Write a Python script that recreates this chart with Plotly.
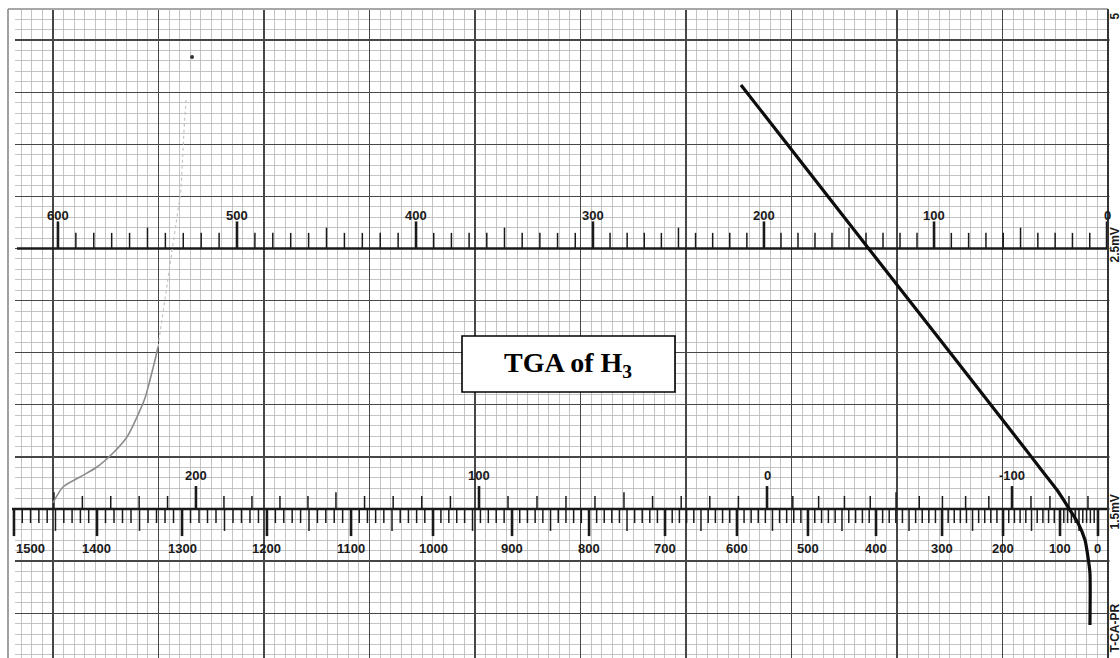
import numpy as np
import plotly.graph_objects as go

# ---------------------------------------------------------------------------
# DATA  (chart-paper coordinates: x = minor vertical divisions, y = minor
# horizontal divisions; x = 0 on the first heavy vertical line, y = 0 on the
# lower scale line)
# ---------------------------------------------------------------------------
# TGA weight trace (black pen)
tga_x = [65.21, 78.01, 91.94, 93.55, 95.17, 96.40, 97.16, 97.82, 98.10, 98.29, 98.29]
tga_y = [40.69, 24.09, 6.05, 3.93, 1.82, -0.10, -1.34, -2.98, -4.61, -6.14, -11.13]

# temperature pen trace (grey) and its faint continuation
temp_x = [0.0, 0.95, 2.56, 4.17, 5.69, 7.01, 7.96, 8.72, 9.19, 9.67, 9.95]
temp_y = [0.58, 2.11, 3.07, 4.03, 5.37, 6.91, 8.83, 10.65, 12.38, 14.30, 15.55]
faint_x = [9.95, 11.09, 11.85, 12.13, 12.42, 12.61]
faint_y = [15.55, 23.42, 28.21, 30.61, 36.37, 39.25]
dot_x = [13.18]
dot_y = [43.38]

# printed scales: values and where they sit on the paper (x divisions)
top_vals = [600, 500, 400, 300, 200, 100, 0]
top_pos = [0.47, 17.44, 34.41, 51.18, 67.39, 83.51, 99.91]
top_labels = [600, 500, 400, 300, 200, 100, 0]

bu_vals = [250, 200, 150, 100, 50, 0, -50, -100, -140]
bu_pos = [0.09, 13.55, 26.82, 40.38, 54.12, 67.68, 79.91, 90.90, 98.10]
bu_labels = [200, 100, 0, -100]

bl_vals = [1500, 1400, 1300, 1200, 1100, 1000, 900, 800, 700, 600, 500, 400, 300, 200, 100, 0]
bl_pos = [-3.70, 4.17, 12.23, 20.28, 28.25, 36.02, 43.51, 50.81, 58.01, 64.83,
          71.56, 78.01, 84.27, 90.05, 95.45, 99.05]
bl_labels = bl_vals

TOP_ROW = 25      # y of the upper (2.5 mV) scale line
BOT_ROW = 0       # y of the lower (1.5 mV) scale line

# ---------------------------------------------------------------------------
PX_X0, PX_SX = 53.0, 10.55     # paper geometry (pixels per division)
PX_Y0, PX_SY = 509.0, 10.42
W, H = 1120, 658
XR = [(0 - PX_X0) / PX_SX, (W - PX_X0) / PX_SX]
YR = [(PX_Y0 - H) / PX_SY, (PX_Y0 - 0) / PX_SY]

def u(px):
    return (px - PX_X0) / PX_SX

def v(py):
    return (PX_Y0 - py) / PX_SY

LABEL_FONT = "Liberation Sans, Arial, sans-serif"
INK = "#1a1a1a"

fig = go.Figure()

def scale(vals, pos, lo, hi, row, direction, lens):
    order = np.argsort(vals)
    vs = np.array(vals, dtype=float)[order]
    ps = np.array(pos, dtype=float)[order]
    mx, my, nx, ny = [], [], [], []
    for t in range(lo, hi + 1, 10):
        x = float(np.interp(t, vs, ps))
        if t % 100 == 0:
            ln = lens[0]
            mx += [x, x, None]; my += [row, row + direction * ln, None]
        else:
            ln = lens[1] if t % 50 == 0 else lens[2]
            nx += [x, x, None]; ny += [row, row + direction * ln, None]
    fig.add_trace(go.Scatter(x=nx, y=ny, mode="lines", line=dict(color=INK, width=1.5),
                             hoverinfo="skip", showlegend=False))
    fig.add_trace(go.Scatter(x=mx, y=my, mode="lines", line=dict(color=INK, width=2.6),
                             hoverinfo="skip", showlegend=False))

def pos_of(val, vals, pos):
    order = np.argsort(vals)
    return float(np.interp(val, np.array(vals, float)[order], np.array(pos, float)[order]))

# scale base lines
fig.add_trace(go.Scatter(x=[u(17), 100], y=[TOP_ROW, TOP_ROW], mode="lines",
                         line=dict(color=INK, width=2.4), hoverinfo="skip", showlegend=False))
fig.add_trace(go.Scatter(x=[u(12), 100], y=[BOT_ROW, BOT_ROW], mode="lines",
                         line=dict(color=INK, width=2.4), hoverinfo="skip", showlegend=False))

# top scale: ticks point up
scale(top_vals, top_pos, 0, 600, TOP_ROW, +1, (2.6, 2.0, 1.5))
# lower row, upper scale: ticks point up
scale(bu_vals, bu_pos, -140, 250, BOT_ROW, +1, (2.2, 1.6, 1.25))
# lower row, lower scale: ticks point down
scale(bl_vals, bl_pos, 0, 1500, BOT_ROW, -1, (2.6, 2.1, 1.35))

# pen traces
fig.add_trace(go.Scatter(x=temp_x, y=temp_y, mode="lines",
                         line=dict(color="#8c8c8c", width=1.6, shape="spline", smoothing=0.8),
                         hoverinfo="skip", showlegend=False))
fig.add_trace(go.Scatter(x=faint_x, y=faint_y, mode="lines",
                         line=dict(color="#c4c4c4", width=1.2, dash="dot"),
                         hoverinfo="skip", showlegend=False))
fig.add_trace(go.Scatter(x=dot_x, y=dot_y, mode="markers", marker=dict(color="#333", size=4),
                         hoverinfo="skip", showlegend=False))
fig.add_trace(go.Scatter(x=tga_x, y=tga_y, mode="lines",
                         line=dict(color="#0d0d0d", width=3.2, shape="spline", smoothing=0.6),
                         hoverinfo="skip", showlegend=False))

lab_font = dict(family=LABEL_FONT, size=13, color=INK, weight="bold")
ann = []
for lab in top_labels:
    ann.append(dict(x=pos_of(lab, top_vals, top_pos), y=TOP_ROW + 3.2, text=str(lab),
                    showarrow=False, font=lab_font, xanchor="center", yanchor="middle"))
for lab in bu_labels:
    ann.append(dict(x=pos_of(lab, bu_vals, bu_pos), y=BOT_ROW + 3.2, text=str(lab),
                    showarrow=False, font=lab_font, xanchor="center", yanchor="middle"))
for lab in bl_labels:
    xa = "left" if lab == bl_labels[0] else "center"
    ann.append(dict(x=pos_of(lab, bl_vals, bl_pos), y=BOT_ROW - 3.75, text=str(lab),
                    showarrow=False, font=lab_font, xanchor=xa, yanchor="middle"))

side_font = dict(family=LABEL_FONT, size=12, color=INK, weight="bold")
for txt, py in [("5", 16), ("2.5mV", 245), ("1.5mV", 512), ("T-CA-PR", 628)]:
    ann.append(dict(x=u(1114.5), y=v(py), text=txt, textangle=-90, showarrow=False,
                    font=side_font, xanchor="center", yanchor="middle"))

ann.append(dict(x=u(568), y=v(364), text="<b>TGA of H<sub>3</sub></b>", showarrow=False,
                font=dict(family="Liberation Serif, Times New Roman, serif", size=28, color="black"),
                xanchor="center", yanchor="middle"))

shapes = [
    # blank margins of the scanned sheet (cover grid outside the paper)
    dict(type="rect", layer="between", x0=XR[0] - 1, x1=u(15), y0=YR[0] - 1, y1=YR[1] + 1,
         fillcolor="white", line=dict(width=0)),
    dict(type="rect", layer="between", x0=XR[0] - 1, x1=XR[1] + 1, y0=v(10), y1=YR[1] + 1,
         fillcolor="white", line=dict(width=0)),
    dict(type="rect", layer="between", x0=u(1109.5), x1=XR[1] + 1, y0=YR[0] - 1, y1=YR[1] + 1,
         fillcolor="white", line=dict(width=0)),
    # paper edge
    dict(type="line", x0=u(8), x1=u(8), y0=v(9), y1=YR[0] - 1, line=dict(color="#8a8a8a", width=1.6)),
    dict(type="line", x0=u(8), x1=100, y0=v(9), y1=v(9), line=dict(color="#8a8a8a", width=1.6)),
    dict(type="line", x0=100, x1=100, y0=v(9), y1=YR[0] - 1, line=dict(color="#333", width=1.8)),
    # title box
    dict(type="rect", layer="above", x0=u(462), x1=u(675), y0=v(392), y1=v(336),
         fillcolor="white", line=dict(color="black", width=1.6)),
]

fig.update_layout(
    width=W, height=H, margin=dict(l=0, r=0, t=0, b=0),
    paper_bgcolor="white", plot_bgcolor="white",
    showlegend=False, hovermode=False,
    annotations=ann, shapes=shapes,
    xaxis=dict(range=XR, showgrid=True, gridcolor="#474747", gridwidth=1.3,
               tick0=0, dtick=10, showticklabels=False, ticks="", zeroline=False,
               showline=False, fixedrange=True,
               minor=dict(showgrid=True, tick0=0, dtick=1, gridcolor="#b5b5b5", gridwidth=0.8)),
    yaxis=dict(range=YR, showgrid=True, gridcolor="#474747", gridwidth=1.3,
               tick0=0, dtick=5, showticklabels=False, ticks="", zeroline=False,
               showline=False, fixedrange=True,
               minor=dict(showgrid=True, tick0=0, dtick=1, gridcolor="#b5b5b5", gridwidth=0.8)),
)

fig.write_html("out.html", config={"displayModeBar": False, "staticPlot": True})
